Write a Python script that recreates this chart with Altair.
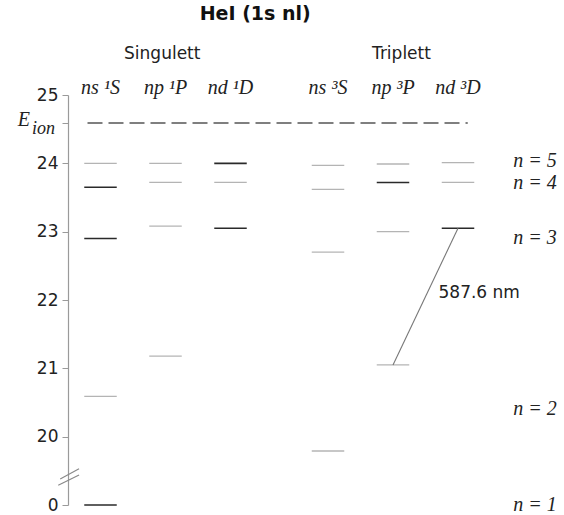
import altair as alt
import pandas as pd

# ---------------- data ----------------
columns = ["ns ¹S", "np ¹P", "nd ¹D", "ns ³S", "np ³P", "nd ³D"]
groups = ["Singulett", "Triplett"]

s1_n = [1, 2, 3, 4, 5]
s1_E = [0.0, 20.59, 22.90, 23.65, 24.00]
p1_n = [2, 3, 4, 5]
p1_E = [21.18, 23.08, 23.72, 24.00]
d1_n = [3, 4, 5]
d1_E = [23.05, 23.72, 24.00]
s3_n = [2, 3, 4, 5]
s3_E = [19.79, 22.70, 23.62, 23.97]
p3_n = [2, 3, 4, 5]
p3_E = [21.05, 23.00, 23.72, 23.99]
d3_n = [3, 4, 5]
d3_E = [23.05, 23.72, 24.01]

E_ion = 24.59

shell_n = [5, 4, 3, 2, 1]
shell_E = [24.03, 23.71, 22.91, 20.41, 0.0]

transition_from = ("nd ³D", 3)
transition_to = ("np ³P", 2)
transition_label = "587.6 nm"

axis_ticks = [20, 21, 22, 23, 24, 25]
title_text = "HeI (1s nl)"

# ---------------- layout / style ----------------
BREAK = 19.0          # energies below the break are drawn at this level
TOP = 25.0
HALF = 0.25
dark_levels = {("ns ¹S", 1), ("ns ¹S", 3), ("ns ¹S", 4), ("nd ¹D", 5),
               ("nd ¹D", 3), ("np ³P", 4), ("nd ³D", 3)}


def center(ci):
    return 0.5 + (ci % 3) + (ci // 3) * 3.5


series = [(s1_n, s1_E), (p1_n, p1_E), (d1_n, d1_E),
          (s3_n, s3_E), (p3_n, p3_E), (d3_n, d3_E)]

rows = []
for ci, (col, (ns, Es)) in enumerate(zip(columns, series)):
    for n, E in zip(ns, Es):
        rows.append({"col": col, "n": n, "E": E, "c": center(ci),
                     "dark": (col, n) in dark_levels})
levels = pd.DataFrame(rows)
levels["yp"] = levels["E"].clip(lower=BREAK)
levels["x1"] = levels["c"] - HALF
levels["x2"] = levels["c"] + HALF

XMAX = 490 / 65
xs = alt.Scale(domain=[0, XMAX], nice=False, zero=False)
ys = alt.Scale(domain=[BREAK, TOP], nice=False, zero=False)

serif = "Liberation Serif"
sans = "DejaVu Sans"

base = alt.Chart(levels)

light = base.transform_filter("!datum.dark").mark_rule(
    color="#b4b4b4", strokeWidth=1.3).encode(
    x=alt.X("x1:Q", scale=xs, axis=None),
    x2="x2:Q",
    y=alt.Y("yp:Q", scale=ys, title=None,
            axis=alt.Axis(values=[BREAK] + axis_ticks + [E_ion],
                          labelExpr=f"datum.value == {BREAK} ? '0' : (datum.value == {E_ion} ? '' : format(datum.value, 'd'))",
                          grid=False, domainColor="#9a9a9a", tickColor="#9a9a9a",
                          tickSize=6, labelFontSize=17, labelFont=sans,
                          labelColor="#222", labelPadding=4, domainWidth=1.2)),
)
dark = base.transform_filter("datum.dark").mark_rule(
    color="#2a2a2a", strokeWidth=1.6).encode(
    x=alt.X("x1:Q", scale=xs), x2="x2:Q", y=alt.Y("yp:Q", scale=ys))

# ionisation energy dashed line
ion_df = pd.DataFrame({"E": [E_ion], "a": [center(0) - 0.2], "b": [center(5) + 0.15]})
ion = alt.Chart(ion_df).mark_rule(color="#555", strokeWidth=1.3, strokeDash=[15, 6]).encode(
    x=alt.X("a:Q", scale=xs), x2="b:Q", y=alt.Y("E:Q", scale=ys))

# transition line
lv = levels.set_index(["col", "n"])
f = lv.loc[transition_from]
t = lv.loc[transition_to]
tr_df = pd.DataFrame({"xa": [f["c"]], "ya": [f["yp"]], "xb": [t["c"]], "yb": [t["yp"]]})
trans = alt.Chart(tr_df).mark_rule(color="#777", strokeWidth=1.1).encode(
    x=alt.X("xa:Q", scale=xs), y=alt.Y("ya:Q", scale=ys), x2="xb:Q", y2="yb:Q")
tr_lab_df = pd.DataFrame({"x": [(f["c"] + t["c"]) / 2 + 0.2], "y": [(f["yp"] + t["yp"]) / 2 + 0.05],
                          "t": [transition_label]})
tr_lab = alt.Chart(tr_lab_df).mark_text(align="left", baseline="middle", font=sans,
                                         fontSize=17, color="#222").encode(
    x=alt.X("x:Q", scale=xs), y=alt.Y("y:Q", scale=ys), text="t:N")

# shell labels n = ...
sh_df = pd.DataFrame({"t": [f"n = {n}" for n in shell_n],
                      "y": [max(e, BREAK) for e in shell_E], "x": [center(5) + 0.85] * len(shell_n)})
shells = alt.Chart(sh_df).mark_text(align="left", baseline="middle", font=serif,
                                    fontStyle="italic", fontSize=20, color="#222").encode(
    x=alt.X("x:Q", scale=xs), y=alt.Y("y:Q", scale=ys), text="t:N")

# column headers
hd_df = pd.DataFrame({"t": columns, "x": [center(i) for i in range(6)], "y": [TOP + 0.1] * 6})
heads = alt.Chart(hd_df).mark_text(baseline="middle", font=serif, fontStyle="italic",
                                   fontSize=20, color="#222").encode(
    x=alt.X("x:Q", scale=xs), y=alt.Y("y:Q", scale=ys), text="t:N")

# group headers
gp_df = pd.DataFrame({"t": groups, "x": [center(1) - 0.05, center(4) + 0.13], "y": [TOP + 0.6] * 2})
gheads = alt.Chart(gp_df).mark_text(baseline="middle", font=sans, fontSize=17, color="#222").encode(
    x=alt.X("x:Q", scale=xs), y=alt.Y("y:Q", scale=ys), text="t:N")

# title
tt_df = pd.DataFrame({"t": [title_text], "x": [2.88], "y": [TOP + 1.18]})
title = alt.Chart(tt_df).mark_text(baseline="middle", font=sans, fontWeight="bold",
                                   fontSize=19, color="#111").encode(
    x=alt.X("x:Q", scale=xs), y=alt.Y("y:Q", scale=ys), text="t:N")

# E_ion label
ei_df = pd.DataFrame({"x": [0.0], "y": [E_ion]})
e_lab = alt.Chart(ei_df).mark_text(align="right", baseline="middle", font=serif, fontStyle="italic",
                                   fontSize=20, color="#222", dx=-38, dy=-3).encode(
    x=alt.X("x:Q", scale=xs), y=alt.Y("y:Q", scale=ys), text=alt.value("E"))
ion_lab = alt.Chart(ei_df).mark_text(align="right", baseline="middle", font=serif, fontStyle="italic",
                                     fontSize=18, color="#222", dx=-13, dy=6).encode(
    x=alt.X("x:Q", scale=xs), y=alt.Y("y:Q", scale=ys), text=alt.value("ion"))

# axis break marks
br_df = pd.DataFrame({"xa": [-0.12, -0.15], "xb": [0.17, 0.17],
                      "ya": [19.38, 19.29], "yb": [19.53, 19.44]})
brk = alt.Chart(br_df).mark_rule(color="#888", strokeWidth=1.1).encode(
    x=alt.X("xa:Q", scale=xs), x2="xb:Q", y=alt.Y("ya:Q", scale=ys), y2="yb:Q")

chart = alt.layer(light, dark, ion, trans, tr_lab, shells, heads, gheads, title,
                  e_lab, ion_lab, brk).properties(
    width=490, height=410,
    background="white",
    autosize=alt.AutoSizeParams(type="none"),
    padding={"left": 68, "top": 95, "right": 6, "bottom": 10},
).configure_view(strokeWidth=0, stroke=None)

chart.save("out.html", embed_options={"renderer": "svg", "actions": False})
